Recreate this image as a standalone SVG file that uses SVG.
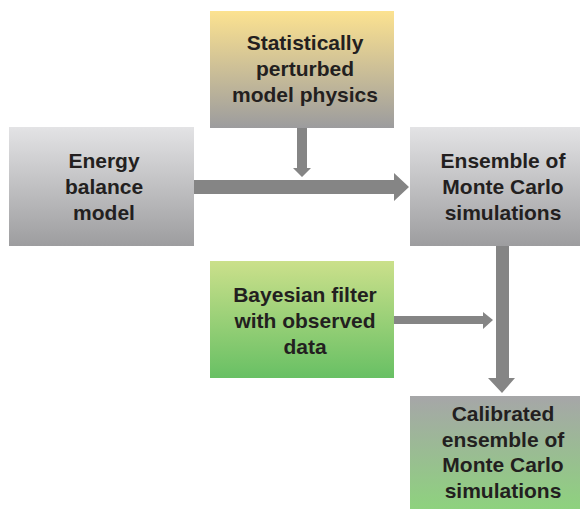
<svg xmlns="http://www.w3.org/2000/svg" width="580" height="509" viewBox="0 0 580 509">
<defs>
<linearGradient id="gY" x1="0" y1="0" x2="0" y2="1"><stop offset="0" stop-color="#fce290"/><stop offset="1" stop-color="#9c9c9e"/></linearGradient>
<linearGradient id="gG" x1="0" y1="0" x2="0" y2="1"><stop offset="0" stop-color="#e3e3e5"/><stop offset="1" stop-color="#9d9d9f"/></linearGradient>
<linearGradient id="gB" x1="0" y1="0" x2="0" y2="1"><stop offset="0" stop-color="#cbe08b"/><stop offset="1" stop-color="#68c064"/></linearGradient>
<linearGradient id="gC" x1="0" y1="0" x2="0" y2="1"><stop offset="0" stop-color="#a6a6a8"/><stop offset="1" stop-color="#8ed27e"/></linearGradient>
</defs>
<style>
text{font-family:"Liberation Sans",Arial,sans-serif;font-weight:bold;font-size:21px;fill:#231f20;text-anchor:middle}
.a{fill:#858585}
</style>
<g id="connectors">
<polygon class="a" points="297,128 307,128 307,168 311,168 302,177 293,168 297,168"/>
<polygon class="a" points="194,180 394,180 394,173 409,187 394,201 394,194 194,194"/>
<polygon class="a" points="496,246 509,246 509,378 515,378 502,393 488,378 496,378"/>
<polygon class="a" points="394,316 483,316 483,312 493,320 483,329 483,324 394,324"/>
</g>
<g id="statistically">
<rect x="210" y="11" width="184" height="117" fill="url(#gY)"/>
<text x="305" y="50">Statistically</text>
<text x="305" y="76">perturbed</text>
<text x="305" y="102">model physics</text>
</g>
<g id="energy">
<rect x="9" y="127" width="185" height="119" fill="url(#gG)"/>
<text x="104" y="168">Energy</text>
<text x="104" y="194">balance</text>
<text x="104" y="220">model</text>
</g>
<g id="ensemble">
<rect x="410" y="127" width="170" height="119" fill="url(#gG)"/>
<text x="503" y="168">Ensemble of</text>
<text x="503" y="194">Monte Carlo</text>
<text x="503" y="220">simulations</text>
</g>
<g id="bayesian">
<rect x="210" y="261" width="184" height="117" fill="url(#gB)"/>
<text x="305" y="302">Bayesian filter</text>
<text x="305" y="328">with observed</text>
<text x="305" y="354">data</text>
</g>
<g id="calibrated">
<rect x="410" y="396" width="170" height="113" fill="url(#gC)"/>
<text x="503" y="421">Calibrated</text>
<text x="503" y="447">ensemble of</text>
<text x="503" y="472">Monte Carlo</text>
<text x="503" y="498">simulations</text>
</g>
</svg>
